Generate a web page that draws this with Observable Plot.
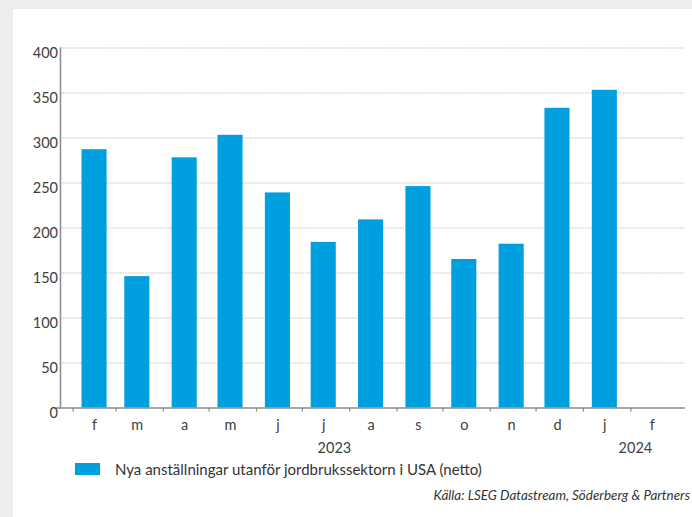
<!DOCTYPE html>
<html>
<head>
<meta charset="utf-8">
<script src="https://cdn.jsdelivr.net/npm/d3@7"></script>
<script src="https://cdn.jsdelivr.net/npm/@observablehq/plot@0.6"></script>
<style>
  html, body { margin: 0; padding: 0; }
  body { width: 692px; height: 517px; background: #eeeded; position: relative; overflow: hidden; font-family: Lato, "Open Sans", sans-serif; }
  #card { position: absolute; left: 13px; top: 9px; width: 679px; height: 508px; background: #fff; overflow: hidden; }
  #chart { position: absolute; left: 0; top: 0; }
  #legend { position: absolute; left: 62px; top: 452px; height: 16px; display: flex; align-items: center; font-size: 15px; color: #333; white-space: nowrap; }
  #legend .sw { width: 25px; height: 12px; background: #009fdf; margin-right: 15px; }
  #source { position: absolute; right: 2px; top: 478px; font-size: 13.4px; font-style: italic; color: #333; white-space: nowrap; }
</style>
</head>
<body>
<div id="card">
  <div id="chart"></div>
  <div id="legend"><span class="sw"></span><span>Nya anställningar utanför jordbrukssektorn i USA (netto)</span></div>
  <div id="source">Källa: LSEG Datastream, Söderberg &amp; Partners</div>
</div>
<script>
// Months on the axis (month start), their labels, and values
const months = ["2023-02","2023-03","2023-04","2023-05","2023-06","2023-07","2023-08","2023-09","2023-10","2023-11","2023-12","2024-01","2024-02"];
const monthLabels = ["f","m","a","m","j","j","a","s","o","n","d","j","f"];
const values = [287, 146, 278, 303, 239, 184, 209, 246, 165, 182, 333, 353, null];
const yTicks = [0, 50, 100, 150, 200, 250, 300, 350, 400];
const years = ["2023", "2024"];
const yearAnchors = ["2023-07-22", "2024-02-04"];

const parse = d3.utcParse("%Y-%m");
const monthData = months.map((m, i) => {
  const start = parse(m);
  const mid = d3.utcDay.offset(start, 14);
  return {start, mid, label: monthLabels[i], value: values[i]};
});
const barData = monthData.filter(d => d.value != null);
const yearData = years.map((y, i) => ({year: y, at: new Date(yearAnchors[i])}));

const halfBarHours = 197;
const axisColor = "#8a8a8a";
const textColor = "#404040";

const chart = Plot.plot({
  width: 679,
  height: 451,
  marginLeft: 47,
  marginRight: 7,
  marginTop: 38.5,
  marginBottom: 52.5,
  style: {fontFamily: "Lato, 'Open Sans', sans-serif", background: "transparent"},
  x: {type: "utc", domain: [new Date("2023-01-23T17:00Z"), new Date("2024-03-07T19:00Z")], axis: null},
  y: {domain: [0, 400], axis: null},
  marks: [
    Plot.gridY(yTicks.filter(t => t > 0), {stroke: "#c4c4c4", strokeOpacity: 1, strokeWidth: 1, strokeDasharray: "1.5,1"}),
    Plot.rectY(barData, {
      x1: d => d3.utcHour.offset(d.mid, -halfBarHours),
      x2: d => d3.utcHour.offset(d.mid, halfBarHours),
      y1: 0,
      y2: "value",
      fill: "#009fdf"
    }),
    Plot.frame({anchor: "left", stroke: axisColor, strokeWidth: 1.5}),
    Plot.ruleY([0], {stroke: axisColor, strokeWidth: 1.5, insetLeft: -4}),
    Plot.axisX(monthData.map(d => d.start), {tickSize: 4, tickFormat: () => "", label: null, stroke: axisColor, strokeWidth: 1.2}),
    Plot.axisY(yTicks, {tickSize: 0, tickPadding: 2.5, dy: 5.5, fontSize: 14.5, fill: textColor, label: null}),
    Plot.text(monthData, {x: "mid", text: "label", frameAnchor: "bottom", dy: 22, fontSize: 14.5, fill: textColor}),
    Plot.text(yearData, {x: "at", text: "year", frameAnchor: "bottom", dy: 45, fontSize: 14.5, fill: textColor})
  ]
});
document.getElementById("chart").appendChild(chart);
</script>
</body>
</html>
